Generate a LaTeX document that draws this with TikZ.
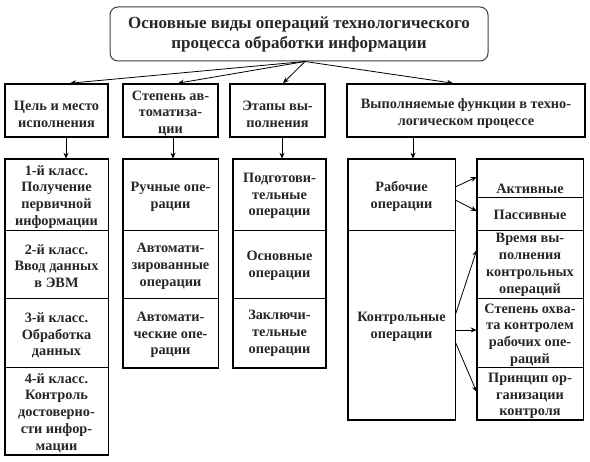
\documentclass[tikz,border=0pt]{standalone}
\usepackage{fontspec}
\setmainfont{Liberation Serif}
\usetikzlibrary{arrows.meta}
\begin{document}
\begin{tikzpicture}[x=1pt,y=-1pt,
  txt/.style={font=\bfseries\fontsize{14.3}{16.8}\selectfont, align=center, text=black!85, inner sep=0pt},
  cell/.style={draw, line width=0.6pt, inner sep=0pt},
  frame/.style={line width=1.6pt, line join=miter},
  topbox/.style={draw, line width=1.6pt, inner sep=0pt},
  titlebox/.style={draw=black!75, line width=1pt, rounded corners=8pt, inner sep=0pt,
    font=\bfseries\fontsize{17}{20}\selectfont, align=center, text=black!85},
  arr/.style={-{Stealth[length=6pt,width=5pt]}, line width=0.8pt}
]
\useasboundingbox[fill=white] (0,0) rectangle (590,462);

% title
\node[titlebox, minimum width=378pt, minimum height=54pt] (title) at (299,34)
  {Основные виды операций технологического\\процесса обработки информации};

% top row
\node[topbox, minimum width=103pt, minimum height=53pt] (t1) at (56.5,110.5) {};
\node[topbox, minimum width=95pt, minimum height=53pt] (t2) at (170.5,110.5) {};
\node[topbox, minimum width=95pt, minimum height=53pt] (t3) at (277.5,110.5) {};
\node[topbox, minimum width=238pt, minimum height=53pt] (t4) at (466,110.5) {};
\node[txt] (t1t) at ([yshift=-3.5pt]t1.center) {Цель и место\\исполнения};
\node[txt] (t2t) at ([yshift=-3pt]t2.center) {Степень ав-\\томатиза-\\ции};
\node[txt] (t3t) at ([yshift=-3.5pt]t3.center) {Этапы вы-\\полнения};
\node[txt] (t4t) at ([yshift=-3pt]t4.center) {Выполняемые функции в техно-\\логическом процессе};

% column 1
\node[cell, minimum width=103pt, minimum height=71pt] (c11) at (56.5,194.5) {};
\node[cell, minimum width=103pt, minimum height=68pt] (c12) at (56.5,264) {};
\node[cell, minimum width=103pt, minimum height=69pt] (c13) at (56.5,332.5) {};
\node[cell, minimum width=103pt, minimum height=88pt] (c14) at (56.5,411) {};
\draw[frame] (c11.north west) rectangle (c14.south east);
\node[txt] (c11t) at ([yshift=-2.5pt]c11.center) {1-й класс.\\Получение\\первичной\\информации};
\node[txt] (c12t) at ([yshift=-2pt]c12.center) {2-й класс.\\Ввод данных\\в ЭВМ};
\node[txt] (c13t) at ([yshift=-3pt]c13.center) {3-й класс.\\Обработка\\данных};
\node[txt] (c14t) at ([yshift=-2pt]c14.center) {4-й класс.\\Контроль\\достоверно-\\сти инфор-\\мации};

% column 2
\node[cell, minimum width=95pt, minimum height=71pt] (c21) at (170.5,194.5) {};
\node[cell, minimum width=95pt, minimum height=68pt] (c22) at (170.5,264) {};
\node[cell, minimum width=95pt, minimum height=70pt] (c23) at (170.5,333) {};
\draw[frame] (c21.north west) rectangle (c23.south east);
\node[txt] (c21t) at ([yshift=-2.5pt]c21.center) {Ручные опе-\\рации};
\node[txt] (c22t) at ([yshift=-2.5pt]c22.center) {Автомати-\\зированные\\операции};
\node[txt] (c23t) at ([yshift=-2pt]c23.center) {Автомати-\\ческие опе-\\рации};

% column 3
\node[cell, minimum width=92pt, minimum height=71pt] (c31) at (279.5,194.5) {};
\node[cell, minimum width=92pt, minimum height=68pt] (c32) at (279.5,264) {};
\node[cell, minimum width=92pt, minimum height=70pt] (c33) at (279.5,333) {};
\draw[frame] (c31.north west) rectangle (c33.south east);
\node[txt] (c31t) at ([yshift=-1.5pt]c31.center) {Подготови-\\тельные\\операции};
\node[txt] (c32t) at ([yshift=-2pt]c32.center) {Основные\\операции};
\node[txt] (c33t) at ([yshift=0pt]c33.center) {Заключи-\\тельные\\операции};

% column 4a
\node[cell, minimum width=107pt, minimum height=71pt] (d1) at (401.5,194.5) {};
\node[cell, minimum width=107pt, minimum height=190pt] (d2) at (401.5,325) {};
\draw[frame] (d1.north west) rectangle (d2.south east);
\node[txt] (d1t) at ([yshift=-2pt]d1.center) {Рабочие\\операции};
\node[txt] (d2t) at ([yshift=-1.5pt]d2.center) {Контрольные\\операции};

% column 4b
\node[cell, minimum width=106pt, minimum height=38pt] (e1) at (530,178) {};
\node[cell, minimum width=106pt, minimum height=33pt] (e2) at (530,213.5) {};
\node[cell, minimum width=106pt, minimum height=68pt] (e3) at (530,264) {};
\node[cell, minimum width=106pt, minimum height=69pt] (e4) at (530,332.5) {};
\node[cell, minimum width=106pt, minimum height=53pt] (e5) at (530,393.5) {};
\draw[frame] (e1.north west) rectangle (e5.south east);
\node[txt] (e1t) at ([yshift=-11pt]e1.center) {Активные};
\node[txt] (e2t) at ([yshift=-1.5pt]e2.center) {Пассивные};
\node[txt] (e3t) at ([yshift=-1pt]e3.center) {Время вы-\\полнения\\контрольных\\операций};
\node[txt] (e4t) at ([yshift=-2.5pt]e4.center) {Степень охва-\\та контролем\\рабочих опе-\\раций};
\node[txt] (e5t) at ([yshift=-2.5pt]e5.center) {Принцип ор-\\ганизации\\контроля};

% arrows from title
\draw[arr] ([xshift=6pt]title.south) -- ([xshift=13.5pt]t1.north);
\draw[arr] ([xshift=6pt]title.south) -- ([xshift=7.5pt]t2.north);
\draw[arr] ([xshift=6pt]title.south) -- ([xshift=5.5pt]t3.north);
\draw[arr] ([xshift=6pt]title.south) -- ([xshift=-13pt]t4.north);

% vertical arrows
\draw[arr] ([xshift=9.5pt]t1.south) -- ([xshift=9.5pt]t1.south |- c11.north);
\draw[arr] ([xshift=2.5pt]t2.south) -- ([xshift=2.5pt]t2.south |- c21.north);
\draw[arr] ([xshift=4.5pt]t3.south) -- ([xshift=4.5pt]t3.south |- c31.north);
\draw[arr] ([xshift=-53pt]t4.south) -- ([xshift=-53pt]t4.south |- d1.north);

% side arrows
\draw[arr] ([yshift=7.5pt]d1.east) -- ([yshift=1pt]e1.west);
\draw[arr] ([yshift=-5.5pt]d1.east) -- ([yshift=2.5pt]e2.west);
\draw[arr] ([yshift=10pt]d2.east) -- ([yshift=14pt]e3.west);
\draw[arr] ([yshift=-5pt]d2.east) -- ([yshift=-5pt]d2.east -| e4.west);
\draw[arr] ([yshift=-17pt]d2.east) -- ([yshift=1.5pt]e5.west);
\end{tikzpicture}
\end{document}
